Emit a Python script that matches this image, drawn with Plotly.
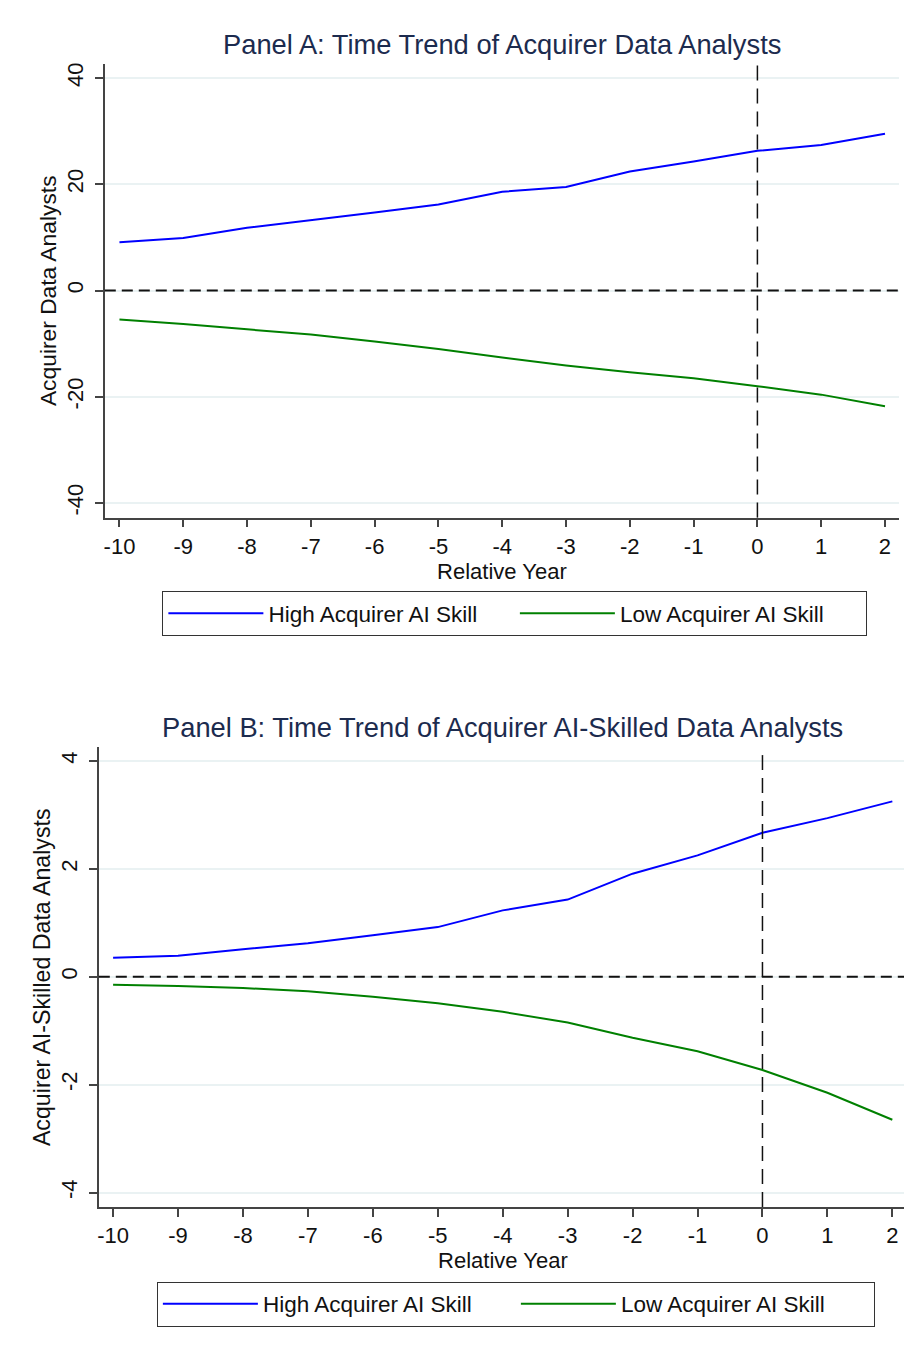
import plotly.graph_objects as go

years = [-10, -9, -8, -7, -6, -5, -4, -3, -2, -1, 0, 1, 2]
year_labels = ["-10", "-9", "-8", "-7", "-6", "-5", "-4", "-3", "-2", "-1", "0", "1", "2"]
a_high = [9.1, 9.9, 11.8, 13.2, 14.7, 16.2, 18.6, 19.5, 22.4, 24.3, 26.3, 27.4, 29.5]
a_low = [-5.45, -6.3, -7.3, -8.3, -9.6, -11.0, -12.6, -14.1, -15.4, -16.5, -18.0, -19.6, -21.8]
b_high = [0.35, 0.39, 0.51, 0.62, 0.77, 0.92, 1.23, 1.43, 1.91, 2.25, 2.67, 2.94, 3.25]
b_low = [-0.15, -0.17, -0.21, -0.27, -0.37, -0.49, -0.65, -0.85, -1.13, -1.38, -1.73, -2.15, -2.65]

a_yticks = [-40, -20, 0, 20, 40]
a_ylabels = ["-40", "-20", "0", "20", "40"]
b_yticks = [-4, -2, 0, 2, 4]
b_ylabels = ["-4", "-2", "0", "2", "4"]
series_names = ["High Acquirer AI Skill", "Low Acquirer AI Skill"]
titles = ["Panel A: Time Trend of Acquirer Data Analysts",
          "Panel B: Time Trend of Acquirer AI-Skilled Data Analysts"]
ytitles = ["Acquirer Data Analysts", "Acquirer AI-Skilled Data Analysts"]
xtitle = "Relative Year"

# page is 912x1349; the figure div starts at the default 8px body margin
M = 8
W, H = 912 - M, 1349 - M
FONT = "Liberation Sans, Arial, sans-serif"
BLUE = "#0000ff"
GREEN = "#008000"
AXC = "#444444"
TXT = "#111111"


def px_x(p):
    return min(1.0, max(0.0, (p - M) / W))


def px_y(p):
    return min(1.0, max(0.0, 1 - (p - M) / H))


fig = go.Figure()

fig.add_trace(go.Scatter(x=years, y=a_high, mode="lines", name=series_names[0],
                         line=dict(color=BLUE, width=2), xaxis="x", yaxis="y", legend="legend"))
fig.add_trace(go.Scatter(x=years, y=a_low, mode="lines", name=series_names[1],
                         line=dict(color=GREEN, width=2), xaxis="x", yaxis="y", legend="legend"))
fig.add_trace(go.Scatter(x=years, y=b_high, mode="lines", name=series_names[0],
                         line=dict(color=BLUE, width=2), xaxis="x2", yaxis="y2", legend="legend2"))
fig.add_trace(go.Scatter(x=years, y=b_low, mode="lines", name=series_names[1],
                         line=dict(color=GREEN, width=2), xaxis="x2", yaxis="y2", legend="legend2"))

xcommon = dict(tickmode="array", tickvals=years, ticktext=year_labels, ticks="outside",
               ticklen=8, tickwidth=1.5, tickcolor=AXC, showline=True, linecolor=AXC,
               linewidth=1.5, showgrid=False, zeroline=False,
               tickfont=dict(size=22, color=TXT, family=FONT),
               title=dict(text=xtitle, font=dict(size=22, color=TXT, family=FONT), standoff=0))
ycommon = dict(tickmode="array", ticks="outside", ticklen=8, tickwidth=1.5, tickcolor=AXC,
               showline=True, linecolor=AXC, linewidth=1.5, showgrid=True,
               gridcolor="#eaf2f3", gridwidth=1.5, zeroline=False, tickangle=-90,
               ticklabelstandoff=3, tickfont=dict(size=22, color=TXT, family=FONT))

legcommon = dict(orientation="h", xanchor="center", yanchor="middle",
                 bordercolor="#333", borderwidth=1, font=dict(size=22.5, color=TXT, family=FONT),
                 itemwidth=95, traceorder="normal", bgcolor="white")

fig.update_layout(
    width=W, height=H,
    margin=dict(l=0, r=0, t=0, b=0),
    paper_bgcolor="white", plot_bgcolor="white",
    font=dict(family=FONT, size=22, color=TXT),
    xaxis=dict(domain=[px_x(103), px_x(899)], anchor="y", range=[-10.23, 2.22], **xcommon),
    yaxis=dict(domain=[px_y(517), px_y(63)], anchor="x", range=[-42.75, 42.65],
               tickvals=a_yticks, ticktext=a_ylabels,
               title=dict(text=ytitles[0], standoff=0,
                          font=dict(size=22.8, color=TXT, family=FONT)),
               **ycommon),
    xaxis2=dict(domain=[px_x(97), px_x(907)], anchor="y2", range=[-10.22, 2.226], **xcommon),
    yaxis2=dict(domain=[px_y(1207), px_y(747)], anchor="x2", range=[-4.27, 4.25],
                tickvals=b_yticks, ticktext=b_ylabels,
                title=dict(text=ytitles[1], standoff=0,
                           font=dict(size=23.2, color=TXT, family=FONT)),
                **ycommon),
    legend=dict(x=px_x(514), y=px_y(613), entrywidth=241.5, **legcommon),
    legend2=dict(x=px_x(515), y=px_y(1304), entrywidth=248, **legcommon),
    showlegend=True,
)

# reference lines at zero
for xa, ya in [("x", "y"), ("x2", "y2")]:
    fig.add_shape(type="line", xref=xa + " domain", yref=ya, x0=0, x1=1, y0=0, y1=0,
                  line=dict(color="#111", width=2, dash="11px,6px"), layer="above")
    fig.add_shape(type="line", xref=xa, yref=ya + " domain", x0=0, x1=0, y0=0, y1=1,
                  line=dict(color="#111", width=1.5, dash="15px,8px"), layer="above")

# panel titles
for t, ypix, xpix in [(titles[0], 44, 501), (titles[1], 727, 501.5)]:
    fig.add_annotation(text=t, xref="paper", yref="paper", x=px_x(xpix), y=px_y(ypix),
                       xanchor="center", yanchor="middle", showarrow=False,
                       font=dict(size=27.3, color="#1c2b4e", family=FONT))

fig.write_html("out.html")
